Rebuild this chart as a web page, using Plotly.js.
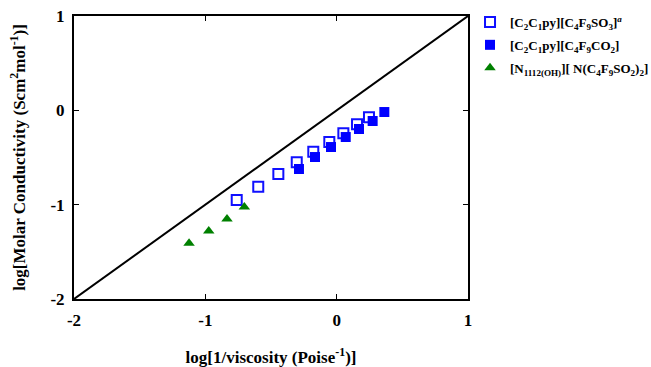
<!DOCTYPE html>
<html>
<head>
<meta charset="utf-8">
<script src="https://cdn.plot.ly/plotly-3.0.1.min.js"></script>
<style>html,body{margin:0;padding:0;background:#fff;}#chart{width:651px;height:367px;}</style>
</head>
<body>
<div id="chart"></div>
<script>
// Series 1: [C2C1py][C4F9SO3]^a (open squares)
const sulfonateX = [-0.761, -0.597, -0.444, -0.304, -0.178, -0.056, 0.051, 0.155, 0.246];
const sulfonateY = [-0.951, -0.809, -0.675, -0.551, -0.438, -0.336, -0.244, -0.148, -0.074];
// Series 2: [C2C1py][C4F9CO2] (filled squares)
const carboxylateX = [-0.287, -0.165, -0.043, 0.069, 0.170, 0.274, 0.363];
const carboxylateY = [-0.622, -0.495, -0.389, -0.283, -0.198, -0.113, -0.018];
// Series 3: [N1112(OH)][N(C4F9SO2)2] (triangles)
const ammoniumX = [-1.124, -0.974, -0.835, -0.703];
const ammoniumY = [-1.410, -1.279, -1.152, -1.025];
// Ideal KCl line
const idealX = [-2, 1];
const idealY = [-2, 1];
const tickVals = [-2, -1, 0, 1];
const tickText = ['-2', '-1', '0', '1'];

const fontFam = '"Liberation Serif", "Times New Roman", serif';

const traces = [
  {x: idealX, y: idealY, mode: 'lines', line: {color: '#000', width: 2}, showlegend: false, hoverinfo: 'skip'},
  {x: sulfonateX, y: sulfonateY, mode: 'markers', legendgroup: 'a', name: '<b>[C<sub>2</sub>C<sub>1</sub>py][C<sub>4</sub>F<sub>9</sub>SO<sub>3</sub>]<sup><i>a</i></sup></b>',
   marker: {symbol: 'square-open', size: 10, color: '#1010ff', line: {width: 2, color: '#1010ff'}}},
  {x: carboxylateX, y: carboxylateY, mode: 'markers', legendgroup: 'b', name: '<b>[C<sub>2</sub>C<sub>1</sub>py][C<sub>4</sub>F<sub>9</sub>CO<sub>2</sub>]</b>',
   marker: {symbol: 'square', size: 10, color: '#0000ff'}},
  {x: ammoniumX, y: ammoniumY, mode: 'markers', legendgroup: 'c', name: '<b>[N<sub>1112(OH)</sub>][ N(C<sub>4</sub>F<sub>9</sub>SO<sub>2</sub>)<sub>2</sub>]</b>',
   marker: {symbol: 'triangle-up', size: 10, color: '#008000'}}
];

const axisCommon = {
  range: [-2, 1], tickvals: tickVals, ticktext: tickText,
  showline: true, linecolor: '#000', linewidth: 2, mirror: 'ticks',
  ticks: 'inside', ticklen: 5, tickwidth: 1.5, tickcolor: '#000',
  showgrid: false, zeroline: false, automargin: false,
  tickfont: {family: fontFam, size: 17, color: '#000', weight: 'bold'}
};

const layout = {
  width: 651, height: 367,
  margin: {l: 74, r: 183, t: 16, b: 68},
  paper_bgcolor: '#fff', plot_bgcolor: '#fff',
  showlegend: true,
  legend: {xref: 'container', yref: 'container', x: 0.722, xanchor: 'left', y: 0.981, yanchor: 'top',
           font: {family: fontFam, size: 13, color: '#000'},
           bgcolor: 'rgba(0,0,0,0)', tracegroupgap: 3, itemwidth: 30},
  xaxis: Object.assign({}, axisCommon, {
    ticklabelstandoff: 5,
    title: {text: '<b>log[1/viscosity (Poise<sup>-1</sup>)]</b>', font: {family: fontFam, size: 17, color: '#000'}, standoff: 25}
  }),
  yaxis: Object.assign({}, axisCommon, {
    ticklabelstandoff: 4,
    title: {text: '<b>log[Molar Conductivity (Scm<sup>2</sup>mol<sup>-1</sup>)]</b>', font: {family: fontFam, size: 17, color: '#000'}, standoff: 20}
  })
};

Plotly.newPlot('chart', traces, layout, {displayModeBar: false, staticPlot: true});
</script>
</body>
</html>
